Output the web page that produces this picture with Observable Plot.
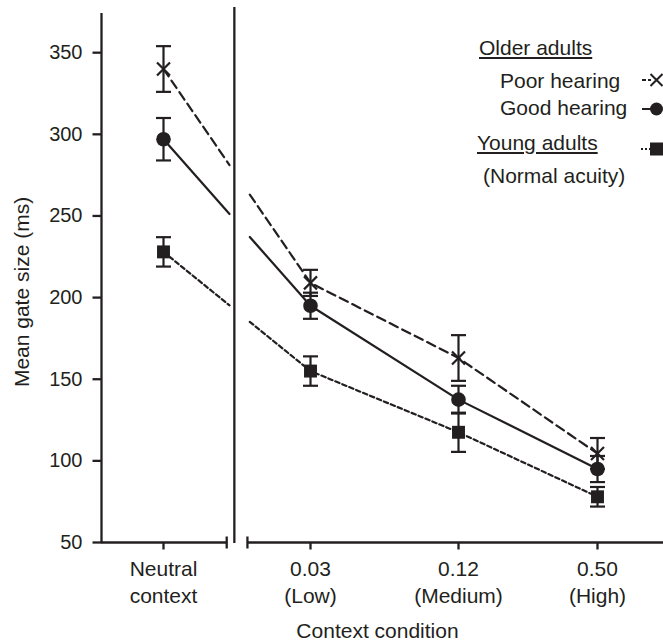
<!DOCTYPE html>
<html><head><meta charset="utf-8">
<script src="https://cdn.jsdelivr.net/npm/d3@7"></script>
<script src="https://cdn.jsdelivr.net/npm/@observablehq/plot@0.6"></script>
<style>
body{margin:0;background:#fff;}
#wrap{position:relative;width:663px;height:641px;overflow:hidden;font-family:"Liberation Sans",Arial,sans-serif;color:#231f20;}
.lg{position:absolute;font-size:21px;line-height:21px;white-space:nowrap;}
.u{text-decoration:underline;text-decoration-thickness:1.5px;text-underline-offset:2px;}
#lgsym{position:absolute;left:0;top:0;}
</style></head><body><div id="wrap"></div>
<script>
// ---- data ----
const conditions = ["Neutral", "0.03", "0.12", "0.50"];
const tickLabels = ["Neutral\ncontext", "0.03\n(Low)", "0.12\n(Medium)", "0.50\n(High)"];
const poorMean  = [340, 209, 163, 104.5];
const poorErr   = [14, 8, 14, 9.5];
const goodMean  = [297, 195, 137.5, 95];
const goodErr   = [13, 8, 8.5, 8];
const youngMean = [228, 155, 117.5, 78];
const youngErr  = [9, 9, 12, 6];
const yTicks = [50, 100, 150, 200, 250, 300, 350];
const yLabel = "Mean gate size (ms)";
const xLabel = "Context condition";
const legendGroups = ["Older adults", "Young adults"];
const legendItems = ["Poor hearing", "Good hearing", "(Normal acuity)"];

// ---- layout constants (index space) ----
const xmin = -0.42, xmax = 3.47;
const gapL = 0.449, gapR = 0.587, sep = 0.482, axL = 0.43, axR = 0.571;
const ink = "#231f20";

const rowsOf = (mean, err) => conditions.map((c, i) => ({i, c, mean: mean[i], err: err[i]}));
const poor = rowsOf(poorMean, poorErr);
const good = rowsOf(goodMean, goodErr);
const young = rowsOf(youngMean, youngErr);

function segs(mean) {
  const lerp = t => mean[0] + (mean[1] - mean[0]) * t;
  const left = [{x: 0, y: mean[0]}, {x: gapL, y: lerp(gapL)}];
  const right = [{x: gapR, y: lerp(gapR)}].concat(mean.slice(1).map((v, k) => ({x: k + 1, y: v})));
  return left.map(d => ({...d, s: "L"})).concat(right.map(d => ({...d, s: "R"})));
}

const sym = f => ({draw(ctx, size) { f(ctx, Math.sqrt(size / Math.PI)); }});
const hLine = sym((c, r) => { c.moveTo(-r, 0); c.lineTo(r, 0); });
const vLine = sym((c, r) => { c.moveTo(0, -r); c.lineTo(0, r); });
const vDown = sym((c, r) => { c.moveTo(0, 0); c.lineTo(0, r); });
const hLeft = sym((c, r) => { c.moveTo(0, 0); c.lineTo(-r, 0); });
const xMark = sym((c, r) => { c.moveTo(-r, -r); c.lineTo(r, r); c.moveTo(-r, r); c.lineTo(r, -r); });

function seriesMarks(rows, mean, dash, marker) {
  return [
    Plot.line(segs(mean), {x: "x", y: "y", z: "s", stroke: ink, strokeWidth: 2.2, strokeDasharray: dash}),
    Plot.ruleX(rows, {x: "i", y1: d => d.mean - d.err, y2: d => d.mean + d.err, stroke: ink, strokeWidth: 2.2}),
    Plot.dot(rows, {x: "i", y: d => d.mean + d.err, symbol: hLine, r: 7.5, stroke: ink, strokeWidth: 2.2, fill: "none"}),
    Plot.dot(rows, {x: "i", y: d => d.mean - d.err, symbol: hLine, r: 7.5, stroke: ink, strokeWidth: 2.2, fill: "none"}),
    marker(rows)
  ];
}

const chart = Plot.plot({
  width: 663, height: 641,
  marginLeft: 101, marginRight: 0, marginTop: 13, marginBottom: 99,
  style: {fontFamily: '"Liberation Sans", Arial, sans-serif', background: "#fff", color: ink},
  x: {type: "linear", domain: [xmin, 0, 1, 2, 3, xmax], range: [101, 163, 310, 458, 597, 663], axis: null},
  y: {type: "linear", domain: [50, 374], axis: null},
  marks: [
    // axes
    Plot.ruleX([xmin], {x: d => d, stroke: ink, strokeWidth: 2.3}),
    Plot.dot(yTicks, {x: xmin, y: d => d, symbol: hLeft, r: 9, stroke: ink, strokeWidth: 2.3, fill: "none"}),
    Plot.text(yTicks, {x: xmin, y: d => d, text: d => String(d), textAnchor: "end", dx: -19, fontSize: 20, fill: ink}),
    Plot.ruleY([50], {x1: xmin, x2: axL, y: d => d, stroke: ink, strokeWidth: 2.3}),
    Plot.ruleY([50], {x1: axR, x2: xmax, y: d => d, stroke: ink, strokeWidth: 2.3}),
    Plot.dot([axL, axR], {x: d => d, y: 50, symbol: vLine, r: 6, stroke: ink, strokeWidth: 2.3, fill: "none"}),
    Plot.dot([0, 1, 2, 3], {x: d => d, y: 50, symbol: vDown, r: 7, stroke: ink, strokeWidth: 2.3, fill: "none"}),
    Plot.text([0, 1, 2, 3], {x: d => d, y: 50, text: d => tickLabels[d], dy: 38, lineHeight: 1.3, fontSize: 21, fill: ink}),
    Plot.ruleX([sep], {x: d => d, stroke: ink, strokeWidth: 2.3, insetTop: -6, insetBottom: -1}),
    Plot.text([yLabel], {frameAnchor: "left", text: d => d, rotate: -90, textAnchor: "middle", lineAnchor: "middle", dx: -79, dy: 14, fontSize: 21, fill: ink}),
    Plot.text([xLabel], {frameAnchor: "bottom", text: d => d, textAnchor: "middle", lineAnchor: "middle", dx: -5, dy: 89, fontSize: 21, fill: ink}),
    // series
    ...seriesMarks(young, youngMean, "4.5,3", rows => Plot.dot(rows, {x: "i", y: "mean", symbol: "square", r: 7.3, fill: ink})),
    ...seriesMarks(good, goodMean, null, rows => Plot.dot(rows, {x: "i", y: "mean", r: 7.3, fill: ink})),
    ...seriesMarks(poor, poorMean, "9,5", rows => Plot.dot(rows, {x: "i", y: "mean", symbol: xMark, r: 6.5, stroke: ink, strokeWidth: 2.2, fill: "none"}))
  ]
});

const wrap = document.getElementById("wrap");
wrap.appendChild(chart);

// ---- legend (HTML overlay) ----
function addText(txt, left, cy, cls) {
  const s = document.createElement("div");
  s.className = "lg" + (cls ? " " + cls : "");
  s.textContent = txt;
  s.style.left = left + "px";
  s.style.top = (cy - 10.5) + "px";
  wrap.appendChild(s);
}
addText(legendGroups[0], 479, 47, "u");
addText(legendItems[0], 500, 80);
addText(legendItems[1], 500, 107);
addText(legendGroups[1], 477, 142, "u");
addText(legendItems[2], 483, 175);

const svg = d3.select(wrap).append("svg").attr("id", "lgsym").attr("width", 663).attr("height", 641);
const g = svg.append("g").attr("stroke", ink).attr("stroke-width", 2).attr("fill", ink);
g.append("line").attr("x1", 642).attr("x2", 651).attr("y1", 80).attr("y2", 80).attr("stroke-dasharray", "4,2");
g.append("path").attr("d", "M650.5,74L662.5,86M650.5,86L662.5,74").attr("fill", "none");
g.append("line").attr("x1", 642).attr("x2", 651).attr("y1", 109).attr("y2", 109);
g.append("circle").attr("cx", 656.5).attr("cy", 109).attr("r", 6.5).attr("stroke", "none");
g.append("line").attr("x1", 641).attr("x2", 650).attr("y1", 149).attr("y2", 149).attr("stroke-dasharray", "2,2");
g.append("rect").attr("x", 650).attr("y", 142.5).attr("width", 13).attr("height", 13).attr("stroke", "none");
</script></body></html>
